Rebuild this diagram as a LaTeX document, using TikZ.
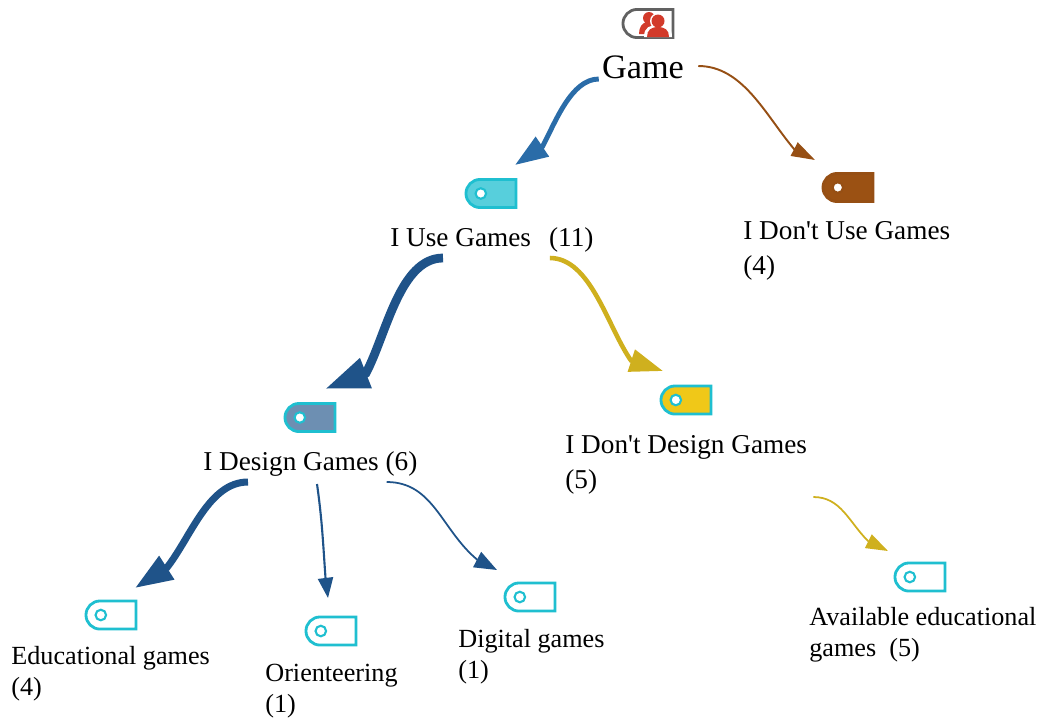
\documentclass[tikz,border=0pt]{standalone}
\usepackage{fontspec}
\setmainfont[Ligatures=TeXOff]{Liberation Serif}
\usepackage{tikz}
\usetikzlibrary{arrows.meta,shapes.misc}
\definecolor{tagcyan}{HTML}{1FBFD0}
\definecolor{tagyellow}{HTML}{F0C818}
\definecolor{flowblue}{HTML}{2A6CA8}
\definecolor{flownavy}{HTML}{1F5389}
\definecolor{flowbrown}{HTML}{964F14}
\definecolor{flowgold}{HTML}{CFB01E}
\definecolor{iconred}{HTML}{D23A2A}
\tikzset{
	tagbox/.style={rounded rectangle, rounded rectangle right arc=none, minimum width=28.5pt, minimum height=16pt, inner sep=0pt, line width=1.6pt},
	label big/.style={inner sep=0pt, font=\fontsize{19.5}{22}\selectfont},
	label mid/.style={inner sep=0pt, anchor=west, align=left, font=\fontsize{15.5}{19.6}\selectfont},
	label small/.style={inner sep=0pt, anchor=west, align=left, font=\fontsize{14.9}{17.6}\selectfont},
}
% name, position, fill, draw
\newcommand{\tagnode}[4]{
	\node [tagbox, fill=#3, draw=#4] (#1) at (#2) {};
	\node [circle, fill=white, draw=#4, line width=1.2pt, minimum size=6pt, inner sep=0pt] (#1hole) at ([xshift=-5.8pt]#1.center) {};
}

\begin{document}
\begin{tikzpicture}[x=0.02cm,y=-0.02cm]
	\useasboundingbox (0,0) rectangle (1040,718);
	\node [tagbox, fill=white, draw=black!62] (tagGame) at (648,23.5) {};
	\fill [iconred] (649,18) circle (6) (639,34) .. controls (639,27) and (642,23) .. (647,22) -- (653,24) -- (650,34) -- cycle;
	\fill [white] (658,21) circle (8) (644,37) .. controls (644,27) and (650,25) .. (658,25) .. controls (666,25) and (672,27) .. (672,37) -- cycle;
	\fill [iconred] (658,21) circle (6.5) (647,37) .. controls (647,30) and (651,27) .. (658,27) .. controls (665,27) and (669,30) .. (669,37) -- cycle;
	\tagnode{tagUse}{491,193.5}{tagcyan!75}{tagcyan}
	\tagnode{tagNoUse}{848,187.5}{flowbrown!95!orange}{flowbrown}
	\tagnode{tagDesign}{310,417.5}{flownavy!65}{tagcyan}
	\tagnode{tagNoDesign}{686,400}{tagyellow}{tagcyan}
	\tagnode{tagEdu}{111,615}{white}{tagcyan}
	\tagnode{tagOrient}{331,631}{white}{tagcyan}
	\tagnode{tagDigital}{530,597}{white}{tagcyan}
	\tagnode{tagAvail}{920,577}{white}{tagcyan}

	\node [label big] (game) at (643,67) {Game};
	\node [label mid] (use) at (390,240) {I Use Games\ \ \,(11)};
	\node [label mid] (nouse) at (743,251) {I Don't Use Games\\(4)};
	\node [label mid] (design) at (203,464) {I Design Games (6)};
	\node [label mid] (nodesign) at (565,465) {I Don't Design Games\\(5)};
	\node [label small] (edu) at (11,674) {Educational games\\(4)};
	\node [label small] (orient) at (265,691) {Orienteering\\(1)};
	\node [label small] (digital) at (458,657) {Digital games\\(1)};
	\node [label small] (avail) at (809,635) {Available educational\\games\ \ (5)};

	\draw [-{Triangle[length=18.8pt,width=13pt]}, flowblue, line width=2.8pt] ([shift={(-3,12)}]game.west) to [out=180,in=62,looseness=0.8] ([shift={(51.5,-47)}]tagUse.center) -- ([shift={(24,-28.5)}]tagUse.center);
	\draw [-{Triangle[length=13.4pt,width=8.5pt]}, flowbrown, line width=1.1pt] ([shift={(14,-1)}]game.east) to [out=0,in=130,looseness=0.9] ([shift={(-54,-38.5)}]tagNoUse.center) -- ([shift={(-33,-27.5)}]tagNoUse.center);
	\draw [-{Triangle[length=25pt,width=17pt]}, flownavy, line width=5pt] ([shift={(53,18)}]use.west) to [out=180,in=62,looseness=0.8] ([shift={(56,-44.5)}]tagDesign.center) -- ([shift={(15,-28.5)}]tagDesign.center);
	\draw [-{Triangle[length=19pt,width=12.7pt]}, flowgold, line width=2.6pt] ([shift={(-44,18)}]use.east) to [out=0,in=125,looseness=0.8] ([shift={(-55,-39.5)}]tagNoDesign.center) -- ([shift={(-23,-29)}]tagNoDesign.center);
	\draw [-{Triangle[length=21.5pt,width=15pt]}, flownavy, line width=4pt] ([shift={(45,18)}]design.west) to [out=180,in=52,looseness=0.85] ([shift={(56,-47.5)}]tagEdu.center) -- ([shift={(24,-27)}]tagEdu.center);
	\draw [-{Triangle[length=11.5pt,width=8.6pt]}, flownavy, line width=1.2pt] ([shift={(114,20)}]design.west) to [out=-82,in=94] ([shift={(-5.5,-53)}]tagOrient.center) -- ([shift={(-3,-33)}]tagOrient.center);
	\draw [-{Triangle[length=12.8pt,width=9.7pt]}, flownavy, line width=1pt] ([shift={(-31,18)}]design.east) to [out=0,in=140] ([shift={(-53,-37.5)}]tagDigital.center) -- ([shift={(-33,-27)}]tagDigital.center);
	\draw [-{Triangle[length=12.5pt,width=8.5pt]}, flowgold, line width=1pt] ([shift={(6,32)}]nodesign.east) to [out=0,in=135] ([shift={(-52,-36)}]tagAvail.center) -- ([shift={(-32,-26)}]tagAvail.center);
\end{tikzpicture}
\end{document}
